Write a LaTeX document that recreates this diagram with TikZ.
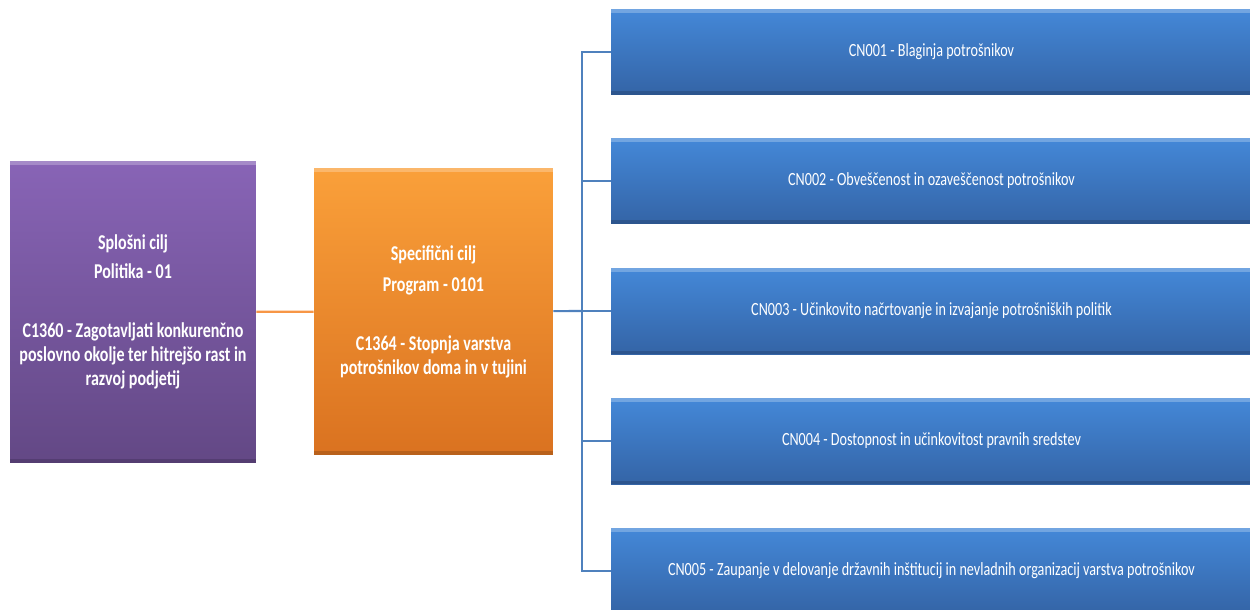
\documentclass[tikz,border=0pt]{standalone}
\usepackage{fontspec}
\newfontfamily\goalfont[FakeStretch=0.76]{Carlito}
\definecolor{polTop}{RGB}{136,100,182}
\definecolor{polBot}{RGB}{99,72,133}
\definecolor{prgTop}{RGB}{250,160,58}
\definecolor{prgBot}{RGB}{218,114,32}
\definecolor{cnTop}{RGB}{68,136,216}
\definecolor{cnBot}{RGB}{52,100,166}
\definecolor{orangeLine}{RGB}{247,150,70}
\definecolor{blueLine}{RGB}{79,129,189}
\begin{document}
\begin{tikzpicture}[x=0.02cm,y=-0.02cm]
      \tikzset{goalbox/.style={rectangle, inner sep=0pt, text=white, align=center,
          shading=axis, shading angle=0,
          path picture={\fill[white,opacity=0.25] (path picture bounding box.north west) rectangle ([yshift=-0.07cm]path picture bounding box.north east);
                        \fill[black,opacity=0.15] (path picture bounding box.south west) rectangle ([yshift=0.07cm]path picture bounding box.south east);}},
        bigbox/.style={goalbox, font=\goalfont\fontsize{12}{13.6}\selectfont\bfseries},
        cnbox/.style={goalbox, top color=cnTop, bottom color=cnBot, minimum width=12.82cm, minimum height=1.72cm,
          font=\goalfont\fontsize{10.6}{12}\selectfont}}
      \useasboundingbox (0,0) rectangle (1250,609);
%% Goals
      	\node[bigbox, top color=polTop, bottom color=polBot, minimum width=4.92cm, minimum height=6.04cm] (pol) at (133,312)
      	  {Splošni cilj\\[3pt] Politika - 01\\[20pt] C1360 - Zagotavljati konkurenčno\\ poslovno okolje ter hitrejšo rast in\\ razvoj podjetij};
      	\node[bigbox, top color=prgTop, bottom color=prgBot, minimum width=4.78cm, minimum height=5.74cm] (prg) at (433.5,311.5)
      	  {Specifični cilj\\[4pt] Program - 0101\\[20pt] C1364 - Stopnja varstva\\ potrošnikov doma in v tujini};
%% Specific goals
    	\node[cnbox] (cn1) at (931.5,52) {CN001 - Blaginja potrošnikov};
    	\node[cnbox] (cn2) at (931.5,181) {CN002 - Obveščenost in ozaveščenost potrošnikov};
    	\node[cnbox] (cn3) at (931.5,311) {CN003 - Učinkovito načrtovanje in izvajanje potrošniških politik};
    	\node[cnbox] (cn4) at (931.5,441) {CN004 - Dostopnost in učinkovitost pravnih sredstev};
    	\node[cnbox] (cn5) at (931.5,571) {CN005 - Zaupanje v delovanje državnih inštitucij in nevladnih organizacij varstva potrošnikov};
%Connectors
		\coordinate (bus) at (582,311);
		\draw[orangeLine, line width=1.2pt] (pol) -- (prg);
		\draw[blueLine, line width=1.2pt] (prg) -- (bus);
		\foreach \i in {1,...,5}
		  \draw[blueLine, line width=1.2pt] (bus) |- (cn\i.west);
	\end{tikzpicture}
\end{document}
